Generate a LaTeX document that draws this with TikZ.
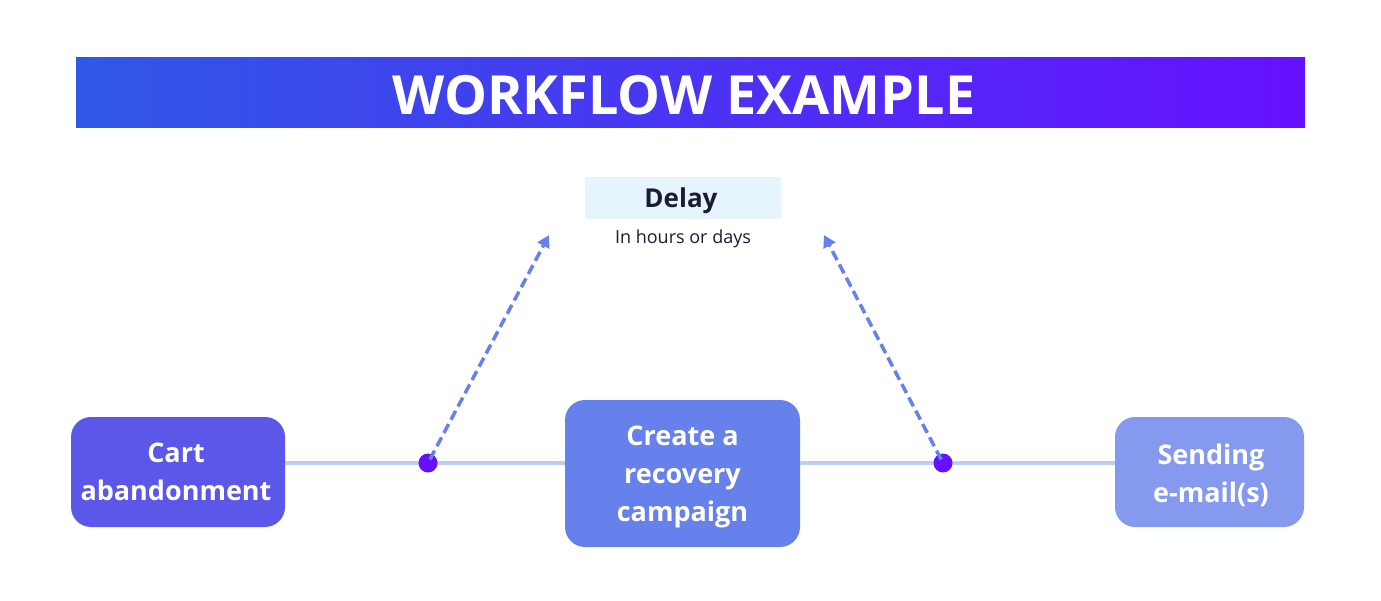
\documentclass[tikz,border=0pt]{standalone}
\usepackage{fontspec}
\setmainfont{Open Sans}
\usetikzlibrary{arrows.meta}
\definecolor{bannerL}{RGB}{47,88,230}
\definecolor{bannerR}{RGB}{102,16,255}
\definecolor{delaybg}{RGB}{230,244,253}
\definecolor{navy}{RGB}{27,27,51}
\definecolor{cartc}{RGB}{91,87,232}
\definecolor{createc}{RGB}{102,128,236}
\definecolor{sendc}{RGB}{133,153,238}
\definecolor{linec}{RGB}{192,204,240}
\definecolor{dotc}{RGB}{102,16,255}
\definecolor{arrowc}{RGB}{102,128,236}
\tikzset{
  stepbox/.style={rounded corners=20pt, inner sep=0pt},
  steptext/.style={text=white, align=center, inner sep=0pt,
    font=\fontsize{27}{38}\selectfont\bfseries},
  conn/.style={draw=linec, line width=4.5pt},
  dotnode/.style={circle, fill=dotc, minimum size=19pt, inner sep=0pt},
  delayarrow/.style={draw=arrowc, line width=3.5pt, dash pattern=on 10pt off 5pt,
    -{Triangle[length=12pt,width=13pt]}, shorten <=4pt},
}
\begin{document}
\begin{tikzpicture}[x=1pt,y=-1pt]
\useasboundingbox (0,0) rectangle (1381,601);
\shade[left color=bannerL, right color=bannerR] (76,58) rectangle (1305,128);
\node[text=white, font=\fontsize{54}{60}\selectfont\bfseries, inner sep=0pt] (title) at (684,95) {WORKFLOW EXAMPLE};

\node[fill=delaybg, minimum width=196pt, minimum height=42pt, inner sep=0pt] (delay) at (683,198) {};
\node[text=navy, font=\fontsize{26}{30}\selectfont\bfseries, inner sep=0pt] (delaytxt) at (681,201) {Delay};
\node[text=navy, font=\fontsize{18}{22}\selectfont, inner sep=0pt] (sub) at (683,239) {In hours or days};

\node[stepbox, fill=cartc, minimum width=214pt, minimum height=110pt] (cart) at (178,472) {};
\node[steptext] (carttxt) at (176,471.5) {Cart\\abandonment};
\node[stepbox, fill=createc, minimum width=235pt, minimum height=147pt] (create) at (682.5,473.5) {};
\node[steptext] (createtxt) at (682.5,477) {Create a\\recovery\\campaign};
\node[stepbox, fill=sendc, minimum width=189pt, minimum height=110pt] (send) at (1209.5,472) {};
\node[steptext] (sendtxt) at (1211,475.5) {Sending\\e-mail(s)};

\draw[conn] (cart.east |- 0,463) -- (create.west |- 0,463);
\draw[conn] (create.east |- 0,463) -- (send.west |- 0,463);

\node[dotnode] (d1) at (428,463) {};
\node[dotnode] (d2) at (943,463) {};

\coordinate (t1) at (549,235);
\coordinate (t2) at (824,235);
\draw[delayarrow] (d1.center) -- (t1);
\draw[delayarrow] (d2.center) -- (t2);
\end{tikzpicture}
\end{document}
